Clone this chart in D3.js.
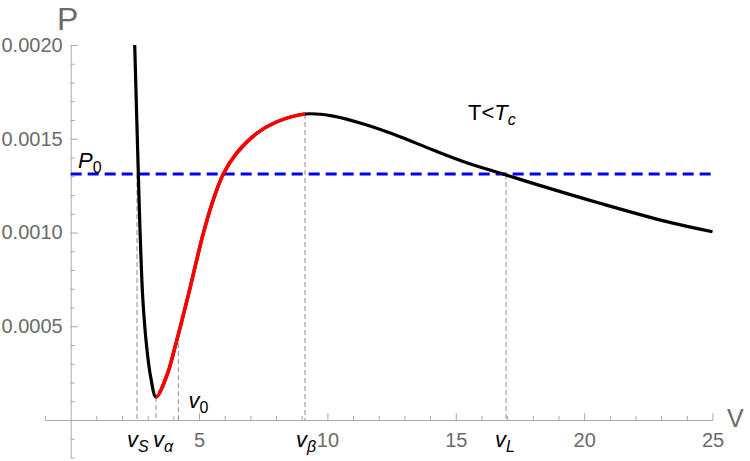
<!DOCTYPE html>
<html>
<head>
<meta charset="utf-8">
<script src="https://cdn.jsdelivr.net/npm/d3@7"></script>
<style>
    body { margin: 0; background: #fff; }
    svg { font-family: "Liberation Sans", Arial, sans-serif; }
</style>
</head>
<body>
<div id="chart"></div>
<script>

// isotherm: (v, P)
const curveV = [2.494, 2.634, 2.701, 2.806, 2.961, 3.117, 3.324,
                3.740, 4.064, 4.570, 5.154, 5.532, 5.945, 6.467, 7.246, 8.025, 9.128,
                10.230, 11.531, 12.828, 14.113, 15.426, 16.840, 18.008, 20.618, 23.216, 25.0];
const curveP = [0.002000, 0.001317, 0.001013, 0.000656, 0.000389, 0.000229, 0.000123,
                0.000235, 0.000389, 0.000659, 0.000989, 0.001165, 0.001312, 0.001424, 0.001529, 0.001590, 0.001632,
                0.001621, 0.001573, 0.001511, 0.001440, 0.001372, 0.001312, 0.001262, 0.001156, 0.001058, 0.001004];

// unstable branch (drawn red) between the minimum and the maximum
const unstable = [3.324, 9.128];

const P0 = 0.001312;

// marked volumes and the height their dashed guide reaches
const markV    = [2.584, 3.324, 4.196, 9.128, 16.96];
const markTop  = [P0, 0.000123, 0.000410, 0.001632, P0];
const markSub  = ['S', 'α', '0', 'β', 'L'];

const xMajor = [5, 10, 15, 20, 25];
const yMajor = [0.0005, 0.0010, 0.0015, 0.0020];

let width = 750, height = 461;

let svg = d3.select('#chart').append('svg')
    .attr('width', width)
    .attr('height', height);

let x = d3.scaleLinear().domain([-1, 25]).range([45, 712.5]);
let y = d3.scaleLinear().domain([-0.0002, 0.0020]).range([457.5, 45]);

let axisColor = '#a9a9a9';
let labelColor = '#6b6b6b';

// minor ticks first
let xMinor = d3.range(-1, 26, 1).filter(d => d !== 0 && xMajor.indexOf(d) < 0);
svg.append('g')
    .attr('transform', `translate(0, ${y(0)})`)
    .call(d3.axisBottom(x).tickValues(xMinor).tickSizeInner(-4).tickSizeOuter(0).tickFormat(''))
    .call(g => g.select('.domain').remove());

let yMinor = d3.range(-2, 21, 1).map(d => d / 10000).filter(d => Math.abs(d) > 1e-9 && yMajor.every(m => Math.abs(m - d) > 1e-9));
svg.append('g')
    .attr('transform', `translate(${x(0)}, 0)`)
    .call(d3.axisLeft(y).tickValues(yMinor).tickSizeInner(-4).tickSizeOuter(0).tickFormat(''))
    .call(g => g.select('.domain').remove());

// major axes
let xAxisGroup = svg.append('g')
    .attr('class', 'x-axis')
    .attr('transform', `translate(0, ${y(0)})`)
    .call(d3.axisBottom(x).tickValues(xMajor).tickSizeInner(-7).tickSizeOuter(0).tickPadding(13));

let yAxisGroup = svg.append('g')
    .attr('class', 'y-axis')
    .attr('transform', `translate(${x(0)}, 0)`)
    .call(d3.axisLeft(y).tickValues(yMajor).tickSizeInner(-7).tickSizeOuter(0).tickPadding(8)
        .tickFormat(d3.format('.4f')));

svg.selectAll('.tick line, .domain').attr('stroke', axisColor);
svg.selectAll('.x-axis text, .y-axis text')
    .attr('fill', labelColor)
    .style('font-size', '20px')
    .style('font-family', '"Liberation Sans", Arial, sans-serif');

// axis names
svg.append('text')
    .attr('x', 57).attr('y', 30)
    .attr('fill', labelColor)
    .style('font-size', '32px')
    .text('P');

svg.append('text')
    .attr('x', 727).attr('y', 427)
    .attr('fill', labelColor)
    .style('font-size', '25px')
    .text('V');

// dashed guides
svg.selectAll('.guide')
    .data(markV)
    .enter().append('line')
    .attr('class', 'guide')
    .attr('x1', d => x(d)).attr('x2', d => x(d))
    .attr('y1', (d, i) => y(markTop[i]))
    .attr('y2', y(0))
    .attr('stroke', '#8c8c8c')
    .attr('stroke-width', 1)
    .attr('stroke-dasharray', '5,3');

// P0 line
svg.append('line')
    .attr('x1', x(0)).attr('x2', x(25))
    .attr('y1', y(P0)).attr('y2', y(P0))
    .attr('stroke', '#0000ee')
    .attr('stroke-width', 3)
    .attr('stroke-dasharray', '11,6');

// curve: one smooth path, red part cut out with a clip
let line = d3.line()
    .x(d => x(d[0]))
    .y(d => y(d[1]))
    .curve(d3.curveCatmullRom.alpha(0.5));

let pts = curveV.map((v, i) => [v, curveP[i]]);

svg.append('defs').append('clipPath')
    .attr('id', 'redClip')
    .append('rect')
    .attr('x', x(unstable[0]))
    .attr('y', 0)
    .attr('width', x(unstable[1]) - x(unstable[0]))
    .attr('height', height);

svg.append('path')
    .datum(pts)
    .attr('d', line)
    .attr('fill', 'none')
    .attr('stroke', 'black')
    .attr('stroke-width', 3.2);

svg.append('path')
    .datum(pts)
    .attr('d', line)
    .attr('fill', 'none')
    .attr('stroke', '#ff0000')
    .attr('stroke-width', 3.6)
    .attr('clip-path', 'url(#redClip)');

// labels with subscripts
function subLabel(px, py, main, sub, opts) {
    opts = opts || {};
    let t = svg.append('text')
        .attr('x', px).attr('y', py)
        .attr('fill', 'black')
        .style('font-size', '22px');
    if (opts.pre) t.append('tspan').text(opts.pre);
    t.append('tspan').style('font-style', 'italic').text(main);
    t.append('tspan')
        .attr('dy', 5)
        .style('font-size', '16px')
        .style('font-style', opts.subUpright ? 'normal' : 'italic')
        .text(sub);
    return t;
}

let labelShift = [-10, -3, 10, -9, -11];
markV.forEach((v, i) => {
    let py = markSub[i] === '0' ? 408 : 447;
    subLabel(x(v) + labelShift[i], py, 'v', markSub[i], {subUpright: markSub[i] === '0'});
});

subLabel(78, 168, 'P', '0', {subUpright: true});
subLabel(468, 120, 'T', 'c', {pre: 'T<'});

</script>
</body>
</html>
